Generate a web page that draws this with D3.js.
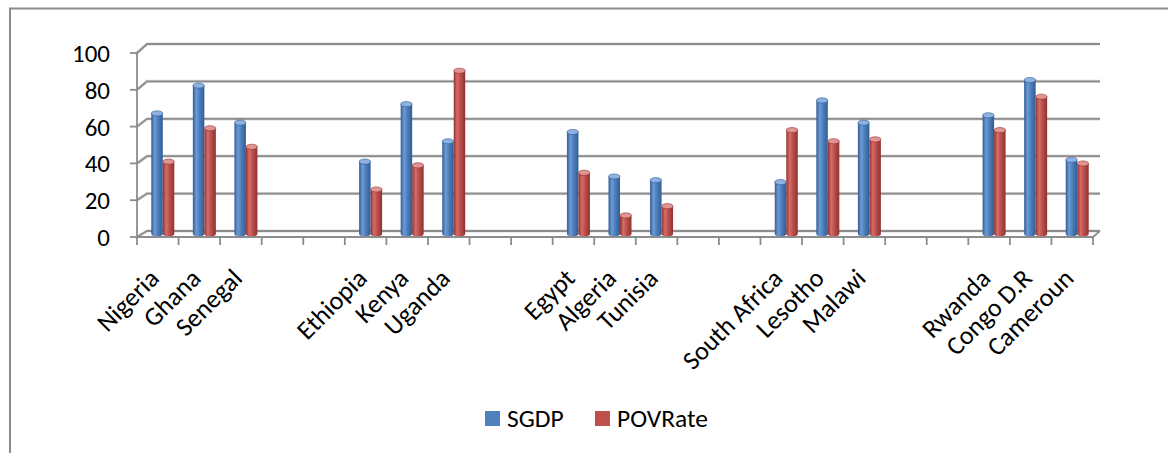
<!DOCTYPE html>
<html>
<head>
<meta charset="utf-8">
<script src="https://cdn.jsdelivr.net/npm/d3@7/dist/d3.min.js"></script>
<style>
  html, body { margin: 0; padding: 0; background: #fff; }
  svg { display: block; }
  text { font-family: Carlito, Calibri, Lato, "Open Sans", sans-serif; fill: #000; }
</style>
</head>
<body>
<svg id="chart" width="1168" height="453"></svg>
<script>
// Categories (empty strings are spacer slots between regional groups)
const categories = ["Nigeria", "Ghana", "Senegal", "", "",
  "Ethiopia", "Kenya", "Uganda", "", "",
  "Egypt", "Algeria", "Tunisia", "", "",
  "South Africa", "Lesotho", "Malawi", "", "",
  "Rwanda", "Congo D.R", "Cameroun"];

const seriesNames = ["SGDP", "POVRate"];

const sgdp = [65, 80, 60, null, null,
  39, 70, 50, null, null,
  55, 31, 29, null, null,
  28, 72, 60, null, null,
  64, 83, 40];

const povRate = [39, 57, 47, null, null,
  24, 37, 88, null, null,
  33, 10, 15, null, null,
  56, 50, 51, null, null,
  56, 74, 38];

const yTicks = [0, 20, 40, 60, 80, 100];

const colors = { SGDP: "#4F81BD", POVRate: "#C0504D" };
const shades = {
  SGDP: { dark: "#2f5d96", mid: "#4f81bd", light: "#6e9bd6", top: "#8db1e0" },
  POVRate: { dark: "#8e3330", mid: "#c0504d", light: "#d56d6a", top: "#e09593" }
};

const svg = d3.select("#chart");

// Outer frame
svg.append("path")
  .attr("d", "M10,453 L10,8.5 L1168,8.5")
  .attr("fill", "none").attr("stroke", "#8a8a8a").attr("stroke-width", 2);

// Plot geometry: front plane, back wall, and the mid-depth plane where bars stand
const x0 = 137, x1 = 1093;
const depthX = 10;
const yFront = d3.scaleLinear().domain([0, 100]).range([237, 53]);
const yBack = d3.scaleLinear().domain([0, 100]).range([231, 44]);
const yMid = d3.scaleLinear().domain([0, 100]).range([234, 48.5]);

const xBand = d3.scaleBand().domain(d3.range(categories.length)).range([x0, x1]).paddingInner(0).paddingOuter(0);
const slot = xBand.bandwidth();
const barW = 11.5;

const grid = svg.append("g");
// Back-wall gridlines with side-wall diagonals
yTicks.forEach(t => {
  const yb = yBack(t), yf = yFront(t);
  grid.append("path")
    .attr("d", `M${x0},${yf} L${x0 + depthX},${yb} L${x1 + 7},${yb}`)
    .attr("fill", "none").attr("stroke", "#d9d9d9").attr("stroke-width", 3.2);
  grid.append("path")
    .attr("d", `M${x0},${yf} L${x0 + depthX},${yb} L${x1 + 7},${yb}`)
    .attr("fill", "none").attr("stroke", "#8c8c8c").attr("stroke-width", 1.8);
});
// Floor right edge
grid.append("path")
  .attr("d", `M${x1},${yFront(0)} L${x1 + 7},${yBack(0)}`)
  .attr("fill", "none").attr("stroke", "#8c8c8c").attr("stroke-width", 1.8);

// Cylinder gradients
const defs = svg.append("defs");
seriesNames.forEach(s => {
  const g = defs.append("linearGradient").attr("id", "grad-" + s)
    .attr("x1", "0%").attr("x2", "100%").attr("y1", "0%").attr("y2", "0%");
  g.append("stop").attr("offset", "0%").attr("stop-color", shades[s].dark);
  g.append("stop").attr("offset", "30%").attr("stop-color", shades[s].light);
  g.append("stop").attr("offset", "55%").attr("stop-color", shades[s].mid);
  g.append("stop").attr("offset", "100%").attr("stop-color", shades[s].dark);
});

// Bars drawn as cylinders at mid depth
const bars = svg.append("g");
const data = [];
categories.forEach((c, i) => {
  [sgdp[i], povRate[i]].forEach((v, k) => {
    if (v == null) return;
    data.push({ i, k, v, s: seriesNames[k] });
  });
});
const ry = 2.6;
data.forEach(d => {
  const cx = xBand(d.i) + slot / 2 + depthX / 2;
  const left = cx - barW + d.k * barW;
  const top = yMid(d.v), bottom = yMid(0);
  const g = bars.append("g");
  g.append("path")
    .attr("d", `M${left},${top} L${left},${bottom} A${barW / 2},${ry} 0 0 0 ${left + barW},${bottom} L${left + barW},${top} Z`)
    .attr("fill", `url(#grad-${d.s})`);
  g.append("ellipse")
    .attr("cx", left + barW / 2).attr("cy", top)
    .attr("rx", barW / 2).attr("ry", ry)
    .attr("fill", shades[d.s].top)
    .attr("stroke", shades[d.s].dark).attr("stroke-width", 0.6);
});

// Front axes
const axisG = svg.append("g");
axisG.append("line")
  .attr("x1", x0).attr("x2", x1).attr("y1", yFront(0)).attr("y2", yFront(0))
  .attr("stroke", "#8c8c8c").attr("stroke-width", 1.8);
axisG.append("line")
  .attr("x1", x0).attr("x2", x0).attr("y1", yFront(100)).attr("y2", yFront(0))
  .attr("stroke", "#8c8c8c").attr("stroke-width", 1.8);
// category boundary ticks
d3.range(categories.length + 1).forEach(i => {
  const x = x0 + i * slot;
  axisG.append("line")
    .attr("x1", x).attr("x2", x).attr("y1", yFront(0)).attr("y2", yFront(0) + 8)
    .attr("stroke", "#8c8c8c").attr("stroke-width", 1.8);
});
// value ticks and labels
yTicks.forEach(t => {
  axisG.append("line")
    .attr("x1", x0 - 7).attr("x2", x0).attr("y1", yFront(t)).attr("y2", yFront(t))
    .attr("stroke", "#8c8c8c").attr("stroke-width", 1.8);
  axisG.append("text")
    .attr("x", x0 - 27).attr("y", yFront(t))
    .attr("dy", "0.36em")
    .attr("text-anchor", "end")
    .style("font-size", "25px")
    .text(t);
});

// Rotated category labels
categories.forEach((c, i) => {
  if (!c) return;
  const cx = xBand(i) + slot / 2;
  svg.append("text")
    .attr("transform", `translate(${cx - 10},${267}) rotate(-45)`)
    .attr("text-anchor", "end")
    .attr("dy", "0.7em")
    .style("font-size", "26px")
    .text(c);
});

// Legend
const legend = svg.append("g");
const legendItems = [{ s: "SGDP", x: 485 }, { s: "POVRate", x: 595 }];
legendItems.forEach(it => {
  legend.append("rect")
    .attr("x", it.x).attr("y", 411).attr("width", 15).attr("height", 15)
    .attr("fill", colors[it.s]);
  legend.append("text")
    .attr("x", it.x + 22).attr("y", 426.5)
    .style("font-size", "25.5px")
    .text(it.s);
});
</script>
</body>
</html>
